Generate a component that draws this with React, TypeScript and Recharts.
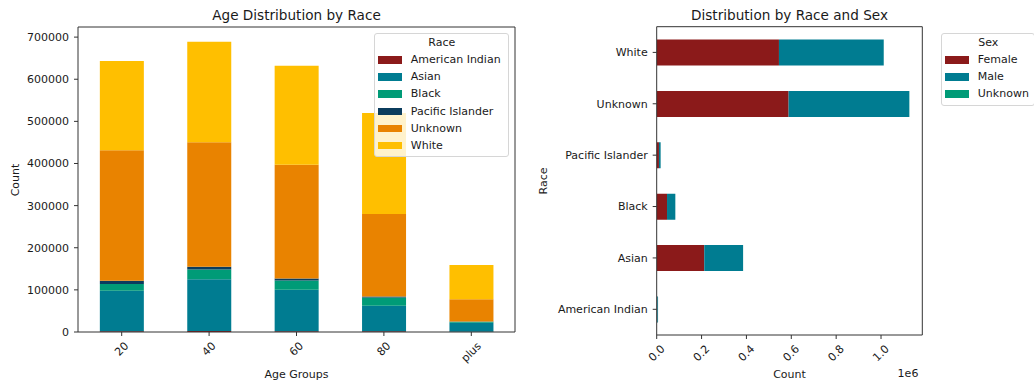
import React from 'react'
import { BarChart, Bar, XAxis, YAxis } from 'recharts'

// Age group counts, stacked by race
const ageGroups = ['20', '40', '60', '80', 'plus']
const americanIndian = [2000, 2500, 2000, 1500, 500]
const asian = [96000, 123000, 98000, 60900, 21500]
const black = [15700, 22900, 22300, 19700, 2400]
const pacificIslander = [7800, 6300, 4700, 2400, 500]
const unknownRace = [310200, 296000, 270000, 195700, 52600]
const white = [211300, 238300, 235200, 239900, 81300]
const countTicks = [0, 100000, 200000, 300000, 400000, 500000, 600000, 700000]

// Totals by race, split by sex (top row first)
const races = ['White', 'Unknown', 'Pacific Islander', 'Black', 'Asian', 'American Indian']
const female = [545000, 588000, 10000, 46000, 212000, 2500]
const male = [467000, 538000, 7500, 37000, 173000, 3500]
const unknownSex = [300, 500, 50, 100, 200, 20]
const millionTicks = [0, 200000, 400000, 600000, 800000, 1000000]

const FONT = '"DejaVu Sans", sans-serif'
const INK = '#1a1a1a'
const SPINE = '#333'

const raceSeries = [
  { key: 'American Indian', values: americanIndian, color: '#8b1a1a' },
  { key: 'Asian', values: asian, color: '#007c91' },
  { key: 'Black', values: black, color: '#009b77' },
  { key: 'Pacific Islander', values: pacificIslander, color: '#0b3c5d' },
  { key: 'Unknown', values: unknownRace, color: '#e98300' },
  { key: 'White', values: white, color: '#ffbf00' },
]

const sexSeries = [
  { key: 'Female', values: female, color: '#8b1a1a' },
  { key: 'Male', values: male, color: '#007c91' },
  { key: 'Unknown', values: unknownSex, color: '#009b77' },
]

const ageData = ageGroups.map((g, i) => {
  const row: Record<string, string | number> = { group: g }
  raceSeries.forEach((s) => (row[s.key] = s.values[i]))
  return row
})

const sexData = races.map((r, i) => {
  const row: Record<string, string | number> = { race: r }
  sexSeries.forEach((s) => (row[s.key] = s.values[i]))
  return row
})

// rough DejaVu Sans advance widths (em)
const charW: Record<string, number> = { '.': 0.318, p: 0.635, l: 0.278, u: 0.634, s: 0.521 }
function textWidth(t: string, size: number) {
  let w = 0
  for (const c of t) w += /[0-9]/.test(c) ? 0.636 : charW[c] ?? 0.6
  return w * size
}

// 45° rotated tick label centred under its tick
function RotatedTick(props: any) {
  const { x, y, payload, tickFormatter } = props
  const label = tickFormatter ? tickFormatter(payload.value) : String(payload.value)
  const cy = y + 3.7 + (textWidth(label, 11) + 7) * 0.354
  return (
    <text
      x={x}
      y={cy}
      textAnchor="middle"
      dominantBaseline="central"
      fontSize={11}
      fontFamily={FONT}
      fill={INK}
      transform={`rotate(-45, ${x}, ${cy})`}
    >
      {label}
    </text>
  )
}

function LegendBox({ title, items, left, top, width }: {
  title: string
  items: { key: string; color: string }[]
  left: number
  top: number
  width: number
}) {
  const height = 27.3 + (items.length - 1) * 17.1 + 11.5
  return (
    <div
      style={{
        position: 'absolute', left, top, width, height,
        background: 'rgba(255,255,255,0.8)', border: '1px solid #d6d6d6',
        borderRadius: 3, boxSizing: 'border-box', fontSize: 11, color: INK,
      }}
    >
      <div style={{ position: 'absolute', left: 0, right: 0, top: 9.3 - 7, lineHeight: '14px', textAlign: 'center' }}>
        {title}
      </div>
      {items.map((it, i) => {
        const cy = 27.3 + i * 17.1
        return (
          <React.Fragment key={it.key}>
            <div style={{ position: 'absolute', left: 3, top: cy - 4.7, width: 23.3, height: 7.3, background: it.color }} />
            <div style={{ position: 'absolute', left: 35.5, top: cy - 7.7, lineHeight: '14px', whiteSpace: 'nowrap' }}>
              {it.key}
            </div>
          </React.Fragment>
        )
      })}
    </div>
  )
}

const abs = (left: number, top: number, extra: React.CSSProperties = {}): React.CSSProperties => ({
  position: 'absolute', left, top, whiteSpace: 'nowrap', ...extra,
})

export default function App() {
  const tickStyle = { fill: INK, fontSize: 11, fontFamily: FONT }
  return (
    <div
      style={{
        position: 'absolute', left: 0, top: 0, width: 1034, height: 387,
        overflow: 'hidden', background: '#fff', fontFamily: FONT, color: INK,
      }}
    >
      {/* Left: stacked columns by age group */}
      <div style={abs(0, 0)}>
        <BarChart
          width={520}
          height={387}
          data={ageData}
          margin={{ top: 26, right: 4, bottom: 15, left: 18 }}
          barCategoryGap="25%"
        >
          <XAxis
            dataKey="group"
            height={40}
            stroke={SPINE}
            tickSize={4}
            tickMargin={2}
            interval={0}
            tick={<RotatedTick />}
          />
          <XAxis xAxisId="top" dataKey="group" orientation="top" height={1} tick={false} tickLine={false} stroke={SPINE} />
          <YAxis
            width={60}
            domain={[0, 724000]}
            ticks={countTicks}
            stroke={SPINE}
            tickSize={4}
            tickMargin={5}
            tick={tickStyle}
            allowDataOverflow
          />
          <YAxis yAxisId="right" orientation="right" width={1} tick={false} tickLine={false} stroke={SPINE} />
          {raceSeries.map((s) => (
            <Bar key={s.key} dataKey={s.key} stackId="race" fill={s.color} isAnimationActive={false} />
          ))}
        </BarChart>
      </div>

      {/* Right: horizontal stacked bars by race */}
      <div style={abs(520, 0)}>
        <BarChart
          width={420}
          height={387}
          data={sexData}
          layout="vertical"
          margin={{ top: 25.7, right: 16.7, bottom: 12, left: 26.7 }}
          barCategoryGap="25%"
        >
          <XAxis
            type="number"
            domain={[0, 1184000]}
            ticks={millionTicks}
            height={40}
            stroke={SPINE}
            tickSize={4}
            tickMargin={2}
            interval={0}
            allowDataOverflow
            tickFormatter={(v: number) => (v / 1e6).toFixed(1)}
            tick={<RotatedTick />}
          />
          <XAxis xAxisId="top" type="number" orientation="top" height={1} tick={false} tickLine={false} stroke={SPINE} />
          <YAxis
            type="category"
            dataKey="race"
            width={110}
            stroke={SPINE}
            tickSize={4}
            tickMargin={5}
            interval={0}
            tick={tickStyle}
          />
          <YAxis yAxisId="right" type="category" dataKey="race" orientation="right" width={1} tick={false} tickLine={false} stroke={SPINE} />
          {sexSeries.map((s) => (
            <Bar key={s.key} dataKey={s.key} stackId="sex" fill={s.color} isAnimationActive={false} />
          ))}
        </BarChart>
      </div>

      {/* titles and axis labels */}
      <div style={abs(296.5, 15, { fontSize: 13.6, transform: 'translate(-50%, -50%)' })}>Age Distribution by Race</div>
      <div style={abs(789.5, 15, { fontSize: 13.6, transform: 'translate(-50%, -50%)' })}>Distribution by Race and Sex</div>
      <div style={abs(296.5, 374, { fontSize: 11, transform: 'translate(-50%, -50%)' })}>Age Groups</div>
      <div style={abs(789.5, 373.5, { fontSize: 11, transform: 'translate(-50%, -50%)' })}>Count</div>
      <div style={abs(908, 373, { fontSize: 11, transform: 'translate(-50%, -50%)' })}>1e6</div>
      <div style={abs(15.3, 180, { fontSize: 11, transform: 'translate(-50%, -50%) rotate(-90deg)' })}>Count</div>
      <div style={abs(543.3, 181, { fontSize: 11, transform: 'translate(-50%, -50%) rotate(-90deg)' })}>Race</div>

      <LegendBox title="Race" items={raceSeries} left={374.3} top={32.7} width={135} />
      <LegendBox title="Sex" items={sexSeries} left={941.3} top={32.7} width={94} />
    </div>
  )
}
